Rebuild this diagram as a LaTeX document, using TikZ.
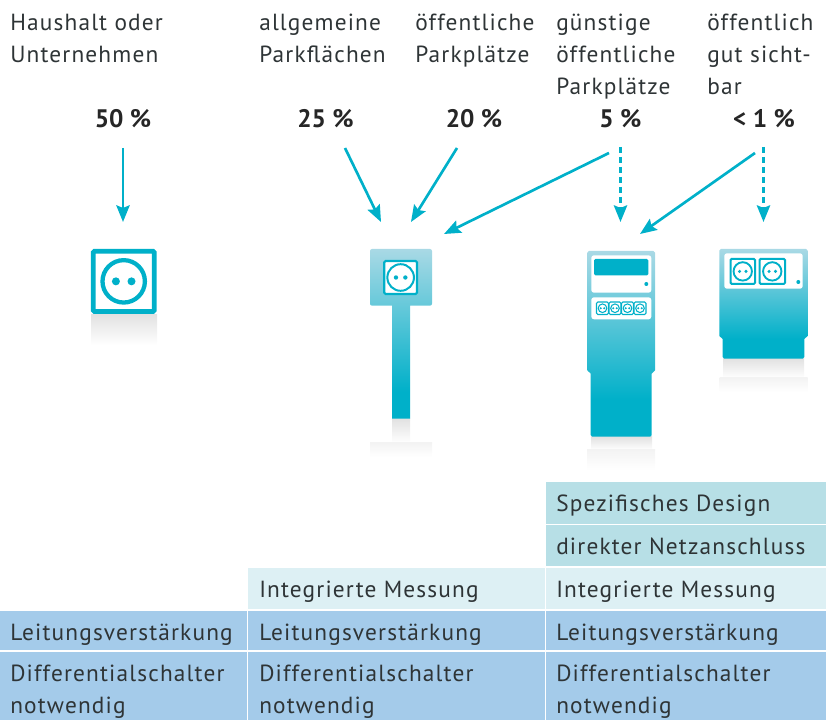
\documentclass[tikz,border=0pt]{standalone}
\usepackage{fontspec}
\setmainfont{PT Sans}[LetterSpace=5]
\newfontfamily\pctfont{PT Sans}
\usetikzlibrary{arrows.meta}
\definecolor{tealc}{HTML}{00B0C9}
\definecolor{lightc}{HTML}{A9D9E5}
\definecolor{txt}{HTML}{2E3436}
\definecolor{rowa}{HTML}{B7DFE6}
\definecolor{rowb}{HTML}{DDF0F4}
\definecolor{rowc}{HTML}{A4CBEA}
\definecolor{refl}{HTML}{E2E2E2}
\pgfdeclareverticalshading{postshade}{100bp}{color(0bp)=(tealc); color(33bp)=(tealc); color(75bp)=(lightc); color(100bp)=(lightc)}
\pgfdeclareverticalshading{pillarshade}{100bp}{color(0bp)=(tealc); color(35bp)=(tealc); color(75bp)=(lightc); color(100bp)=(lightc)}
\pgfdeclareverticalshading{unitshade}{100bp}{color(0bp)=(tealc); color(34bp)=(tealc); color(75bp)=(lightc); color(100bp)=(lightc)}
\tikzset{
  label text/.style={font=\fontsize{17.5pt}{24pt}\selectfont, text=txt, inner sep=0pt, anchor=base west},
  pct/.style={font=\fontsize{19pt}{24pt}\pctfont\bfseries, text=black!85, inner sep=0pt, anchor=base},
  flow/.style={draw=tealc, line width=2pt, -{Stealth[length=12.5pt,width=10pt,inset=2pt]}},
  flowd/.style={flow, dash pattern=on 4.5pt off 3pt},
  cella/.style={fill=rowa},
  cellb/.style={fill=rowb},
  cellc/.style={fill=rowc},
  reflection/.style={top color=refl, bottom color=white},
  reflwide/.style={top color=refl!40, bottom color=white},
}
% socket: x0,y0,x1,y1, frame width, ring width, radius, dot radius, dot offset
\newcommand{\socketicon}[9]{%
  \fill[white,rounded corners=0.6pt] (#1,#2) rectangle (#3,#4);
  \draw[tealc,line width=#5,rounded corners=1pt] (#1,#2) rectangle (#3,#4);
  \draw[tealc,line width=#6] ({(#1+#3)/2},{(#2+#4)/2}) circle[radius=#7];
  \fill[tealc] ({(#1+#3)/2-#9},{(#2+#4)/2}) circle[radius=#8];
  \fill[tealc] ({(#1+#3)/2+#9},{(#2+#4)/2}) circle[radius=#8];
}
\begin{document}
\begin{tikzpicture}[x=0.75pt,y=-0.75pt]
\useasboundingbox (0,0) rectangle (826,720);

% header labels
\node[label text] (l1a) at (10,31) {Haushalt oder};
\node[label text] (l1b) at (10,63) {Unternehmen};
\node[label text] (l2a) at (259,31) {allgemeine};
\node[label text] (l2b) at (259,63) {Parkflächen};
\node[label text] (l3a) at (415,31) {öffentliche};
\node[label text] (l3b) at (415,63) {Parkplätze};
\node[label text] (l4a) at (556,31) {günstige};
\node[label text] (l4b) at (556,63) {öffentliche};
\node[label text] (l4c) at (556,95) {Parkplätze};
\node[label text] (l5a) at (707,31) {öffentlich};
\node[label text] (l5b) at (707,63) {gut sicht-};
\node[label text] (l5c) at (707,95) {bar};

\node[pct] (p1) at (123,127.5) {50 \%};
\node[pct] (p2) at (325.5,127.5) {25 \%};
\node[pct] (p3) at (474,127.5) {20 \%};
\node[pct] (p4) at (620.5,127.5) {5 \%};
\node[pct] (p5) at (764,127.5) {< 1 \%};

% arrow end points
\coordinate (s1) at (123,148);   \coordinate (t1) at (123,222);
\coordinate (s2) at (345,148);   \coordinate (t2) at (381,222);
\coordinate (s3) at (457,148);   \coordinate (t3) at (411,222);
\coordinate (s4) at (609,153);   \coordinate (t4) at (444,234);
\coordinate (s5) at (620.5,147); \coordinate (t5) at (620.5,222);
\coordinate (s6) at (755,153);   \coordinate (t6) at (640,234);
\coordinate (s7) at (763.5,147); \coordinate (t7) at (763.5,222);
\draw[flow] (s1) -- (t1);
\draw[flow] (s2) -- (t2);
\draw[flow] (s3) -- (t3);
\draw[flow] (s4) -- (t4);
\draw[flowd] (s5) -- (t5);
\draw[flow] (s6) -- (t6);
\draw[flowd] (s7) -- (t7);

% wall socket
\shade[reflection] (91,315) rectangle (157,345);
\socketicon{93.2}{251.2}{154.2}{311.5}{3.6pt}{3.2pt}{21.2}{4}{7.8}

% post
\shade[reflection] (392,419) rectangle (410,443);
\shade[reflwide] (370,443) rectangle (432,457);
\shade[shading=postshade]
  [rounded corners=1.5pt] (370,270) -- (370,249) -- (432,249) -- (432,305.7)
  [sharp corners] -- (410,305.7) -- (410,418.7) -- (392,418.7) -- (392,305.7)
  [rounded corners=1.5pt] -- (370,305.7) -- cycle;
\socketicon{384.3}{261}{417}{294}{1.6pt}{1.5pt}{13.3}{2.2}{4.7}

% pillar
\shade[reflection] (591,437) rectangle (652,450);
\shade[reflwide] (587,450) rectangle (655,470);
\shade[shading=pillarshade,rounded corners=1.2pt]
  (587.3,251) -- (655,251) -- (655,372) -- (651.7,372) -- (651.7,436.7) -- (590.7,436.7) -- (590.7,372) -- (587.3,372) -- cycle;
\fill[white,rounded corners=2pt] (591.3,255.3) rectangle (651.3,292.7);
\fill[tealc,rounded corners=1pt] (594,259) rectangle (648.3,275.3);
\fill[tealc] (646.3,284) circle[radius=2];
\fill[white,rounded corners=2pt] (591.3,297.3) rectangle (651.3,319.3);
\socketicon{596.5}{302}{608.5}{314.5}{.8pt}{.8pt}{4.3}{1.1}{1.8}
\socketicon{609}{302}{621}{314.5}{.8pt}{.8pt}{4.3}{1.1}{1.8}
\socketicon{621.5}{302}{633.5}{314.5}{.8pt}{.8pt}{4.3}{1.1}{1.8}
\socketicon{634}{302}{646}{314.5}{.8pt}{.8pt}{4.3}{1.1}{1.8}

% unit
\shade[reflection] (723,359) rectangle (804,378);
\shade[reflwide] (719.5,378) rectangle (807.5,392);
\shade[shading=unitshade,rounded corners=1.2pt]
  (719.3,249) -- (807.7,249) -- (807.7,337.5) -- (804.3,337.5) -- (804.3,358.7) -- (722.7,358.7) -- (722.7,337.5) -- (719.3,337.5) -- cycle;
\fill[white,rounded corners=2pt] (724.3,253.3) rectangle (802.7,288.7);
\socketicon{730.5}{258.8}{755}{284}{1.5pt}{1.4pt}{9.2}{1.7}{3.2}
\socketicon{759.5}{258.8}{785}{284}{1.5pt}{1.4pt}{9.2}{1.7}{3.2}
\fill[tealc] (798.3,282) circle[radius=2];

% table cells
\fill[cella] (546,482.5) rectangle (826,524);
\fill[cella] (546,525.5) rectangle (826,566.5);
\fill[cellb] (248,568) rectangle (544.5,609);
\fill[cellb] (546,568) rectangle (826,609);
\fill[cellc] (0,611) rectangle (246.5,650);
\fill[cellc] (248,611) rectangle (544.5,650);
\fill[cellc] (546,611) rectangle (826,650);
\fill[cellc] (0,652) rectangle (246.5,720);
\fill[cellc] (248,652) rectangle (544.5,720);
\fill[cellc] (546,652) rectangle (826,720);

\node[label text] (c1) at (556,512) {Spezifisches Design};
\node[label text] (c2) at (556,555) {direkter Netzanschluss};
\node[label text] (c3) at (259,597.5) {Integrierte Messung};
\node[label text] (c4) at (556,597.5) {Integrierte Messung};
\node[label text] (c5) at (10,640.5) {Leitungsverstärkung};
\node[label text] (c6) at (259,640.5) {Leitungsverstärkung};
\node[label text] (c7) at (556,640.5) {Leitungsverstärkung};
\node[label text] (c8) at (10,681.5) {Differentialschalter};
\node[label text] (c9) at (10,713.5) {notwendig};
\node[label text] (c10) at (259,681.5) {Differentialschalter};
\node[label text] (c11) at (259,713.5) {notwendig};
\node[label text] (c12) at (556,681.5) {Differentialschalter};
\node[label text] (c13) at (556,713.5) {notwendig};
\end{tikzpicture}
\end{document}
